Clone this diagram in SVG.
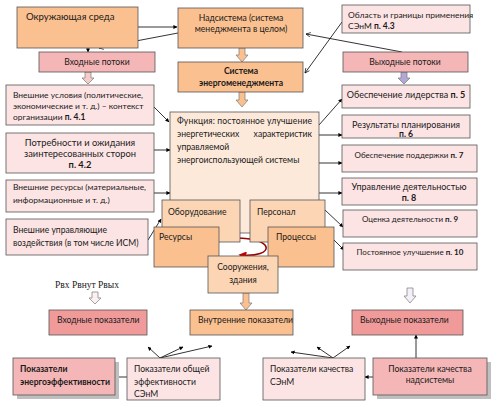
<svg xmlns="http://www.w3.org/2000/svg" width="500" height="408" viewBox="0 0 500 408">
<defs>
<marker id="af" viewBox="0 0 10 10" refX="9" refY="5" markerWidth="5" markerHeight="5" orient="auto-start-reverse"><path d="M0,0 L10,5 L0,10 Z" fill="#000"/></marker>
<marker id="ao" viewBox="0 0 10 10" refX="9" refY="5" markerWidth="7" markerHeight="7" orient="auto"><path d="M1,1 L9,5 L1,9" fill="none" stroke="#000" stroke-width="1.2"/></marker>
<marker id="ar" viewBox="0 0 10 10" refX="8" refY="5" markerWidth="5" markerHeight="5" orient="auto"><path d="M0,0 L10,5 L0,10 Z" fill="#C00000"/></marker>
</defs>
<style>
rect{stroke:#555;stroke-width:0.8}
.or{fill:#FAC090}
.pe{fill:#FCD5B4}
.lp{fill:#FDE9D9}
.pk{fill:#FDE4E4}
.pm{fill:#F4B6B6}
.pr{fill:#F09A9A}
.sh{fill:#BFBFBF;stroke:none}
text{font-family:Lato,"Noto Sans","Liberation Sans",sans-serif;font-size:8.6px;fill:#1a1a1a}
.c{text-anchor:middle}
.b{font-weight:bold}
.l{font-size:9px}
.s{font-size:8px}
.m{font-size:8.45px}
.ln{stroke:#000;stroke-width:0.8;fill:none}
.ba{stroke:#7a7a7a;stroke-width:0.7}
</style>

<g id="connectors">
<line class="ln" x1="138" y1="27" x2="177" y2="27" marker-end="url(#af)"/>
<line class="ln" x1="178" y1="33" x2="99" y2="48" marker-end="url(#ao)"/>
<line class="ln" x1="88" y1="48" x2="88" y2="52" marker-end="url(#af)"/>
<line class="ln" x1="342" y1="22" x2="305" y2="73" marker-end="url(#ao)"/>
<line class="ln" x1="402" y1="52" x2="306" y2="34" marker-end="url(#ao)"/>
<line class="ln" x1="154" y1="107" x2="169" y2="122" marker-end="url(#af)"/>
<line class="ln" x1="154" y1="150" x2="170" y2="150" marker-end="url(#af)"/>
<line class="ln" x1="154" y1="193" x2="170" y2="193" marker-end="url(#af)"/>
<line class="ln" x1="148" y1="240" x2="161" y2="219" marker-end="url(#af)"/>
<line class="ln" x1="319" y1="125" x2="342" y2="99" marker-end="url(#af)"/>
<line class="ln" x1="319" y1="135" x2="342" y2="135" marker-end="url(#af)"/>
<line class="ln" x1="319" y1="163" x2="342" y2="163" marker-end="url(#af)"/>
<line class="ln" x1="319" y1="193" x2="342" y2="193" marker-end="url(#af)"/>
<line class="ln" x1="325" y1="210" x2="343" y2="227" marker-end="url(#af)"/>
<line class="ln" x1="334" y1="240" x2="344" y2="250" marker-end="url(#af)"/>
<path d="M233,238 C276,237 276,258 240,255" fill="none" stroke="#A00000" stroke-width="1.6" marker-end="url(#ar)"/>
<line class="ln" x1="127" y1="377" x2="115" y2="377" marker-end="url(#af)"/>
<line class="ln" x1="160" y1="358" x2="148" y2="347" marker-end="url(#af)"/>
<line class="ln" x1="160" y1="358" x2="183" y2="347" marker-end="url(#af)"/>
<line class="ln" x1="160" y1="358" x2="212" y2="346" marker-end="url(#af)"/>
<line class="ln" x1="333" y1="358" x2="291" y2="352" marker-end="url(#af)"/>
<line class="ln" x1="333" y1="358" x2="317" y2="347" marker-end="url(#af)"/>
<line class="ln" x1="333" y1="358" x2="350" y2="346" marker-end="url(#af)"/>
<line class="ln" x1="373" y1="377" x2="365" y2="377" marker-end="url(#af)"/>
<line class="ln" x1="416" y1="358" x2="416" y2="335" marker-end="url(#af)"/>
<path class="ba" fill="#FAC090" d="M239,48 H245 V55 H248 L242,62 L236,55 H239 Z"/>
<path class="ba" fill="#FAC090" d="M239,92 H245 V100 H248 L242,107 L236,100 H239 Z"/>
<path class="ba" fill="#F8CBCB" d="M85,72 H91 V78 H94 L88,84 L82,78 H85 Z"/>
<path class="ba" fill="#B4A7D6" d="M401,72 H407 V78 H410 L404,84 L398,78 H401 Z"/>
<path class="ba" fill="#FAC090" d="M243,293 H249 V303 H252 L246,310 L240,303 H243 Z"/>
<path class="ba" fill="#FDF0F0" d="M92,292 H98 V298 H101 L95,304 L89,298 H92 Z"/>
<path class="ba" fill="#F4F0FA" d="M407,288 H413 V296 H416 L410,303 L404,296 H407 Z"/>
</g>

<g id="okr"><rect class="or" x="17" y="7" width="121" height="41"/><text x="26" y="20" style="font-size:9.6px">Окружающая среда</text></g>
<g id="nadsys"><rect class="or" x="178" y="8" width="125" height="40"/><text class="c" x="241" y="21">Надсистема (система</text><text class="c" x="241" y="32">менеджмента в целом)</text></g>
<g id="sem"><rect class="or" x="178" y="62" width="125" height="30"/><text class="c b" x="241" y="74">Система</text><text class="c b" x="241" y="86">энергоменеджмента</text></g>
<g id="oblast"><rect class="pk" x="342" y="5" width="128" height="28"/><text class="m" x="348" y="18">Область и границы применения</text><text class="m" x="348" y="29">СЭнМ <tspan class="b">п. 4.3</tspan></text></g>
<g id="vhpot"><rect class="pm" x="39" y="52" width="116" height="20"/><text class="c" x="97" y="65">Входные потоки</text></g>
<g id="vyhpot"><rect class="pm" x="343" y="52" width="125" height="20"/><text class="c" x="405" y="65">Выходные потоки</text></g>
<g id="vnusl"><rect class="pk" x="6" y="85" width="148" height="40"/><text class="m" x="13" y="98">Внешние условия (политические,</text><text class="m" x="13" y="109">экономические и т. д.) – контекст</text><text class="m" x="13" y="120">организации <tspan class="b">п. 4.1</tspan></text></g>
<g id="potr"><rect class="pk" x="6" y="133" width="148" height="40"/><text class="c" style="font-size:9.3px" x="80" y="146">Потребности и ожидания</text><text class="c" style="font-size:9.3px" x="80" y="157">заинтересованных сторон</text><text class="c b" style="font-size:9.3px" x="80" y="168">п. 4.2</text></g>
<g id="vnres"><rect class="pk" x="6" y="180" width="148" height="32"/><text class="m" x="13" y="190">Внешние ресурсы (материальные,</text><text class="m" x="13" y="203">информационные и т. д.)</text></g>
<g id="vnupr"><rect class="pk" x="6" y="219" width="142" height="36"/><text x="13" y="233">Внешние управляющие</text><text x="13" y="246">воздействия (в том числе ИСМ)</text></g>
<g id="func"><rect class="lp" x="170" y="112" width="149" height="121"/>
<text x="177" y="124" textLength="135" lengthAdjust="spacing">Функция: постоянное улучшение</text>
<text x="177" y="137">энергетических</text><text x="312" y="137" text-anchor="end">характеристик</text>
<text x="177" y="150">управляемой</text><text x="177" y="163">энергоиспользующей системы</text></g>
<g id="oborud"><rect class="pe" x="162" y="200" width="78" height="42"/><text x="168" y="215">Оборудование</text></g>
<g id="personal"><rect class="pe" x="250" y="200" width="75" height="42"/><text x="257" y="215">Персонал</text></g>
<g id="resursy"><rect class="or" x="154" y="227" width="65" height="40"/><text x="159" y="240">Ресурсы</text></g>
<g id="processy"><rect class="or" x="268" y="227" width="66" height="40"/><text x="276" y="240">Процессы</text></g>
<g id="soor"><rect class="pe" x="208" y="256" width="70" height="37"/><text class="c" x="243" y="270">Сооружения,</text><text class="c" x="243" y="283">здания</text></g>
<g id="lider"><rect class="pk" x="342" y="85" width="128" height="23"/><text class="c l" x="406" y="98">Обеспечение лидерства <tspan class="b">п. 5</tspan></text></g>
<g id="plan"><rect class="pk" x="342" y="115" width="128" height="23"/><text class="c l" x="406" y="128">Результаты планирования</text><text class="c b" x="406" y="137">п. 6</text></g>
<g id="podd"><rect class="pk" x="342" y="145" width="135" height="27"/><text class="c s" x="409" y="158">Обеспечение поддержки <tspan class="b">п. 7</tspan></text></g>
<g id="upr"><rect class="pk" x="342" y="178" width="135" height="27"/><text class="c l" x="409" y="190">Управление деятельностью</text><text class="c l b" x="409" y="201">п. 8</text></g>
<g id="ocenka"><rect class="pk" x="343" y="210" width="134" height="27"/><text class="c s" x="410" y="222">Оценка деятельности <tspan class="b">п. 9</tspan></text></g>
<g id="postul"><rect class="pk" x="343" y="243" width="134" height="27"/><text class="c s" x="410" y="255">Постоянное улучшение <tspan class="b">п. 10</tspan></text></g>
<text x="55" y="288" style="font-family:'Liberation Serif',serif;font-size:9.5px">Pвх Pвнут Pвых</text>
<g id="vhpok"><rect class="pr" x="49" y="310" width="98" height="25"/><text x="57" y="323">Входные показатели</text></g>
<g id="vnpok"><rect class="or" x="190" y="310" width="103" height="25"/><text x="198" y="323">Внутренние показатели</text></g>
<g id="vyhpok"><rect class="pr" x="352" y="310" width="111" height="25"/><text x="360" y="323">Выходные показатели</text></g>
<g id="energoef"><rect class="sh" x="17" y="362" width="102" height="37"/><rect class="pm" x="13" y="358" width="102" height="37"/><text class="b" x="20" y="372">Показатели</text><text class="b" x="20" y="385">энергоэффективности</text></g>
<g id="obsh"><rect class="pk" x="127" y="358" width="93" height="42"/><text x="134" y="372">Показатели общей</text><text x="134" y="385">эффективности</text><text x="134" y="397">СЭнМ</text></g>
<g id="kach"><rect class="pk" x="263" y="358" width="102" height="42"/><text x="270" y="372">Показатели качества</text><text x="270" y="385">СЭнМ</text></g>
<g id="kachnad"><rect class="sh" x="377" y="362" width="114" height="37"/><rect class="pm" x="373" y="358" width="114" height="37"/><text class="c" x="430" y="372">Показатели качества</text><text class="c" x="430" y="383">надсистемы</text></g>
</svg>
